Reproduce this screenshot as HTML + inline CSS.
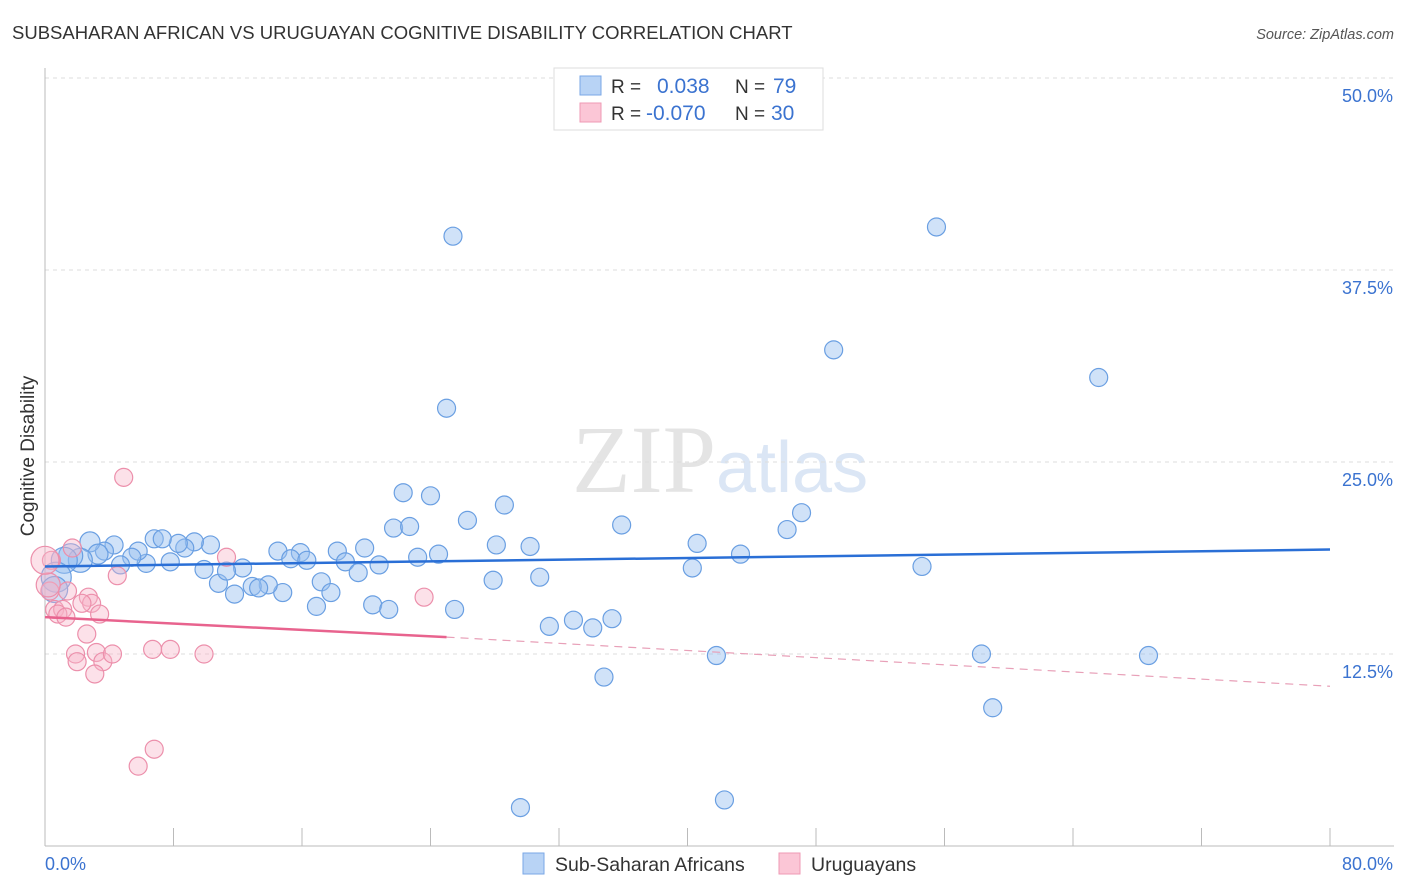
<!DOCTYPE html>
<html><head><meta charset="utf-8"><style>
body{margin:0;background:#fff;font-family:"Liberation Sans",sans-serif;}
svg{display:block}
</style></head><body>
<svg id="chart" width="1406" height="892">
<text x="12" y="39" font-size="18.5" fill="#333">SUBSAHARAN AFRICAN VS URUGUAYAN COGNITIVE DISABILITY CORRELATION CHART</text>
<text x="1394" y="39" font-size="14.5" fill="#555" font-style="italic" text-anchor="end">Source: ZipAtlas.com</text>
<text x="716" y="492" font-size="96" fill="#e4e4e4" font-family="Liberation Serif" text-anchor="end">ZIP</text>
<text x="716" y="492" font-size="72" fill="#dbe6f5">atlas</text>
<g id="grid"></g>
<line x1="45" y1="68" x2="45" y2="846" stroke="#bbb"/>
<line x1="45" y1="846" x2="1394" y2="846" stroke="#bbb"/>
<g id="xticks"></g>
<text x="45" y="870" font-size="18" fill="#3b73d0">0.0%</text>
<text x="1393" y="870" font-size="18" fill="#3b73d0" text-anchor="end">80.0%</text>
<text transform="translate(34,456) rotate(-90)" font-size="19" fill="#333" text-anchor="middle">Cognitive Disability</text>
<g id="pts"></g>
<g id="trends"></g>
<g>
<rect x="554" y="68" width="269" height="62" fill="#fff" stroke="#ddd"/>
<rect x="580" y="76" width="21" height="19" fill="#b8d3f5" stroke="#7aa7e6"/>
<rect x="580" y="103" width="21" height="19" fill="#fbc6d6" stroke="#ef9ab4"/>
<text x="611" y="93" font-size="19" fill="#333">R = <tspan x="657" fill="#3b73d0" font-size="21">0.038</tspan><tspan x="735" fill="#333">N = </tspan><tspan x="773" fill="#3b73d0" font-size="21">79</tspan></text>
<text x="611" y="120" font-size="19" fill="#333">R = <tspan x="646" fill="#3b73d0" font-size="21">-0.070</tspan><tspan x="735" fill="#333">N = </tspan><tspan x="771" fill="#3b73d0" font-size="21">30</tspan></text>
</g>
<g>
<rect x="523" y="853" width="21" height="21" fill="#b8d3f5" stroke="#7aa7e6"/>
<text x="555" y="871" font-size="19.5" fill="#333">Sub-Saharan Africans</text>
<rect x="779" y="853" width="21" height="21" fill="#fbc6d6" stroke="#ef9ab4"/>
<text x="811" y="871" font-size="19.5" fill="#333">Uruguayans</text>
</g>
</svg>
<script>
const yTicks=[12.5,25,37.5,50];
const yTickLabels=["12.5%","25.0%","37.5%","50.0%"];
const xTicks=[0,8,16,24,32,40,48,56,64,72,80];
// Sub-Saharan Africans [x%, y%]
const blueX=[25.4,55.5,49.1,65.6,25.0,22.3,24.0,28.6,26.3,21.7,22.7,35.9,47.1,46.2,28.1,30.2,40.6,43.3,24.5,23.2,19.9,18.2,15.9,14.5,15.3,16.3,18.7,20.8,19.5,17.2,17.8,27.9,30.8,40.3,54.6,14.8,13.9,12.9,13.3,11.8,10.8,12.3,11.3,9.9,10.3,9.3,8.7,8.3,6.8,7.3,7.8,6.3,5.8,5.4,4.7,4.3,3.7,2.8,3.3,2.2,1.6,1.2,0.7,0.6,16.9,20.4,21.4,25.5,31.4,32.9,34.1,35.3,41.8,58.3,68.7,34.8,59.0,29.6,42.3];
const blueY=[39.7,40.3,32.3,30.5,28.5,23.0,22.8,22.2,21.2,20.7,20.8,20.9,21.7,20.6,19.6,19.5,19.7,19.0,19.0,18.8,19.4,19.2,19.1,19.2,18.7,18.6,18.5,18.3,17.8,17.2,16.5,17.3,17.5,18.1,18.2,16.5,17.0,16.9,16.8,16.4,17.1,18.1,17.9,18.0,19.6,19.8,19.4,19.7,20.0,20.0,18.5,18.4,19.2,18.8,18.3,19.6,19.2,19.8,19.0,18.6,18.9,18.6,17.5,16.7,15.6,15.7,15.4,15.4,14.3,14.7,14.2,14.8,12.4,12.5,12.4,11.0,9.0,2.5,3.0];
const blueR=[9,9,9,9,9,9,9,9,9,9,9,9,9,9,9,9,9,9,9,9,9,9,9,9,9,9,9,9,9,9,9,9,9,9,9,9,9,9,9,9,9,9,9,9,9,9,9,9,9,9,9,9,9,9,9,9,9,10,10,12,12,13,15,13,9,9,9,9,9,9,9,9,9,9,9,9,9,9,9];
// Uruguayans
const pinkX=[4.9,0.4,1.7,11.3,4.5,1.4,0.3,2.7,2.9,2.3,0.6,1.1,0.8,3.4,1.3,2.6,1.9,2.0,3.2,3.6,4.2,6.7,7.8,9.9,3.1,23.6,6.8,5.8,0.2,0.0];
const pinkY=[24.0,18.6,19.4,18.8,17.6,16.6,16.6,16.2,15.8,15.8,15.4,15.4,15.1,15.1,14.9,13.8,12.5,12.0,12.6,12.0,12.5,12.8,12.8,12.5,11.2,16.2,6.3,5.2,17.0,18.6];
const pinkR=[9,9,9,9,9,9,9,9,9,9,9,9,9,9,9,9,9,9,9,9,9,9,9,9,9,9,9,9,12,14];
const blueTrend=[[0,18.2],[80,19.3]];
const pinkTrend=[[0,14.9],[25,13.6],[80,10.4]];
const X=v=>45+v/80*1285, Y=v=>846-v*15.36;
const NS="http://www.w3.org/2000/svg";
function mk(t,a,p){const e=document.createElementNS(NS,t);for(const k in a)e.setAttribute(k,a[k]);p.appendChild(e);return e;}
const grid=document.getElementById('grid');
yTicks.forEach((v,i)=>{
 const l=mk('line',{x1:45,x2:1394,y1:Y(v),y2:Y(v),stroke:'#ddd','stroke-dasharray':'4,4'},grid);
 
 
 const t=mk('text',{x:1393,y:Y(v)+24,'font-size':18,fill:'#3b73d0','text-anchor':'end'},grid);
 t.textContent=yTickLabels[i];
 
 
});
const xt=document.getElementById('xticks');
xTicks.forEach(v=>{
 const l=mk('line',{x1:X(v),x2:X(v),y1:828,y2:846,stroke:'#bbb'},xt);
 
 
});
const pts=document.getElementById('pts');
blueX.forEach((v,i)=>{
 const c=mk('circle',{cx:X(v),cy:Y(blueY[i]),r:blueR[i],fill:'rgba(150,190,240,0.45)',stroke:'#6a9fe2','stroke-width':1.2},pts);
 
 
});
pinkX.forEach((v,i)=>{
 const c=mk('circle',{cx:X(v),cy:Y(pinkY[i]),r:pinkR[i],fill:'rgba(248,180,200,0.4)',stroke:'#ec8fab','stroke-width':1.2},pts);
 
 
});
const tr=document.getElementById('trends');
const bl=mk('line',{x1:X(blueTrend[0][0]),y1:Y(blueTrend[0][1]),x2:X(blueTrend[1][0]),y2:Y(blueTrend[1][1]),stroke:'#2a6fd6','stroke-width':2.5},tr);


const pl=mk('line',{x1:X(pinkTrend[0][0]),y1:Y(pinkTrend[0][1]),x2:X(pinkTrend[1][0]),y2:Y(pinkTrend[1][1]),stroke:'#e8638e','stroke-width':2.5},tr);


const pd=mk('line',{x1:X(pinkTrend[1][0]),y1:Y(pinkTrend[1][1]),x2:X(pinkTrend[2][0]),y2:Y(pinkTrend[2][1]),stroke:'#e8a0b8','stroke-width':1.2,'stroke-dasharray':'8,6'},tr);


</script>
</body></html>
